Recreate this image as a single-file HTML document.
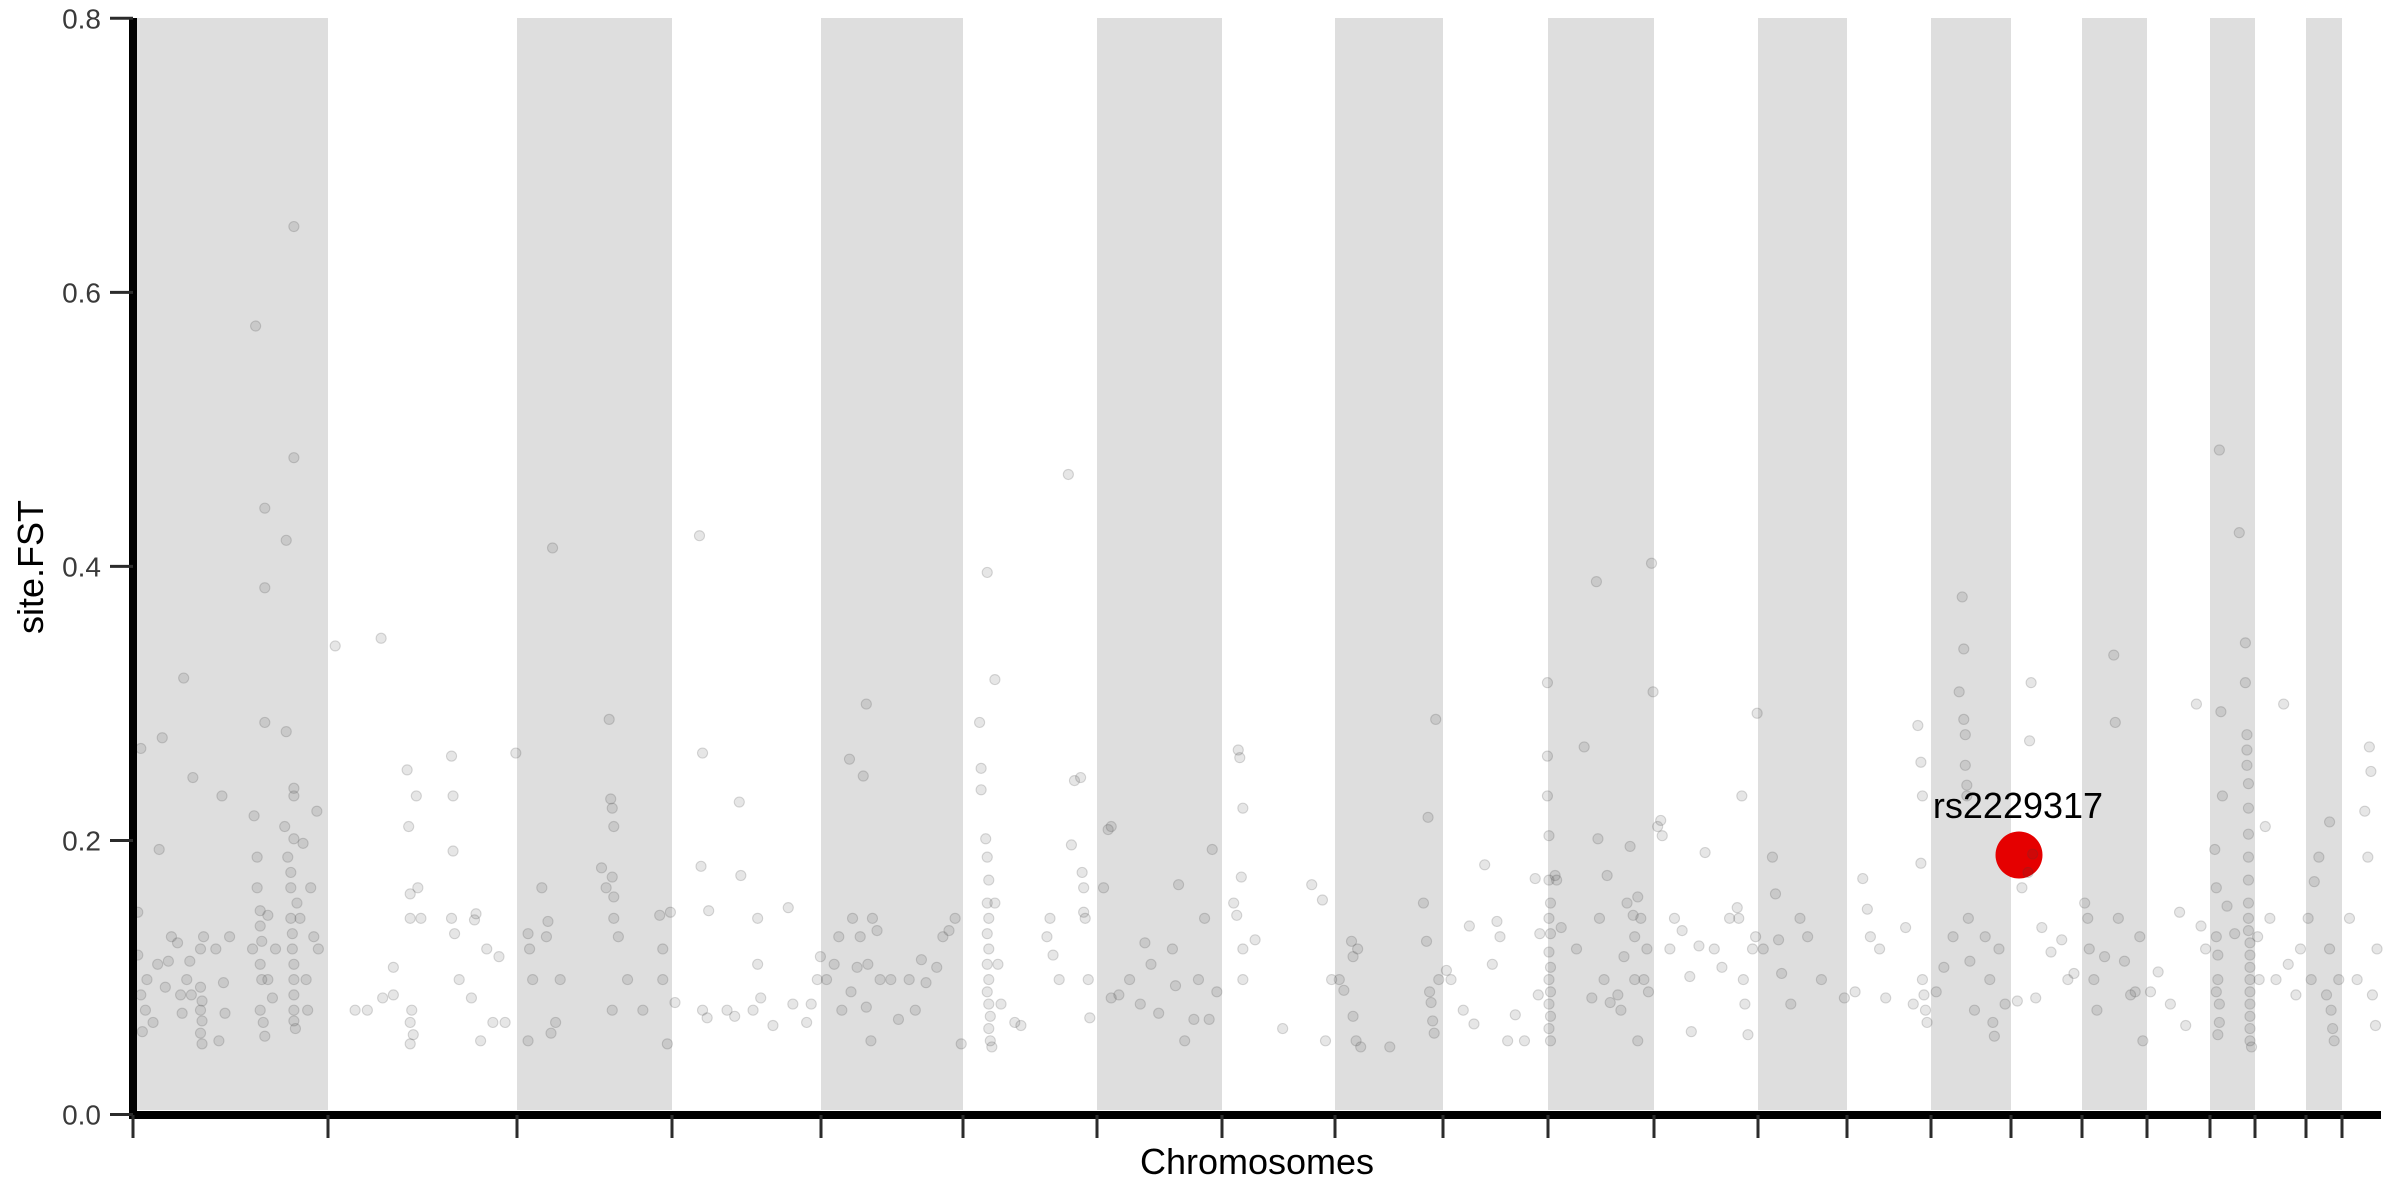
<!DOCTYPE html>
<html><head><meta charset="utf-8"><style>
html,body{margin:0;padding:0;background:#fff;}
svg{display:block;font-family:"Liberation Sans",Arial,sans-serif;}
.d circle{fill:#404040;fill-opacity:0.13;stroke:#404040;stroke-opacity:0.2;stroke-width:0.7;}
</style></head><body>
<svg width="2400" height="1200" viewBox="0 0 2400 1200" xmlns="http://www.w3.org/2000/svg">
<rect x="0" y="0" width="2400" height="1200" fill="#fff"/>
<g fill="#dedede">
<rect x="133" y="18" width="195" height="1092"/>
<rect x="517" y="18" width="155" height="1092"/>
<rect x="821" y="18" width="142" height="1092"/>
<rect x="1097" y="18" width="125" height="1092"/>
<rect x="1335" y="18" width="108" height="1092"/>
<rect x="1548" y="18" width="106" height="1092"/>
<rect x="1758" y="18" width="89" height="1092"/>
<rect x="1931" y="18" width="80" height="1092"/>
<rect x="2082" y="18" width="65" height="1092"/>
<rect x="2210" y="18" width="45" height="1092"/>
<rect x="2306" y="18" width="36" height="1092"/>
</g>
<circle cx="2019" cy="855" r="23.5" fill="#e50000"/>
<g class="d" transform="scale(1.5306)">
<!-- chr1 -->
<circle cx="90" cy="624" r="3.3"/><circle cx="92" cy="650" r="3.3"/><circle cx="95" cy="660" r="3.3"/><circle cx="93" cy="674" r="3.3"/><circle cx="92" cy="489" r="3.3"/><circle cx="96" cy="640" r="3.3"/><circle cx="90" cy="596" r="3.3"/>
<circle cx="104" cy="555" r="3.3"/><circle cx="103" cy="630" r="3.3"/><circle cx="106" cy="482" r="3.3"/><circle cx="108" cy="645" r="3.3"/><circle cx="100" cy="668" r="3.3"/><circle cx="112" cy="612" r="3.3"/><circle cx="110" cy="628" r="3.3"/>
<circle cx="116" cy="616" r="3.3"/><circle cx="120" cy="443" r="3.3"/><circle cx="119" cy="662" r="3.3"/><circle cx="122" cy="640" r="3.3"/><circle cx="118" cy="650" r="3.3"/><circle cx="126" cy="508" r="3.3"/><circle cx="125" cy="650" r="3.3"/><circle cx="124" cy="628" r="3.3"/>
<circle cx="131" cy="645" r="3.3"/><circle cx="132" cy="654" r="3.3"/><circle cx="131" cy="660" r="3.3"/><circle cx="132" cy="667" r="3.3"/><circle cx="131" cy="675" r="3.3"/><circle cx="132" cy="682" r="3.3"/><circle cx="131" cy="620" r="3.3"/><circle cx="133" cy="612" r="3.3"/>
<circle cx="141" cy="620" r="3.3"/><circle cx="145" cy="520" r="3.3"/><circle cx="143" cy="680" r="3.3"/><circle cx="146" cy="642" r="3.3"/><circle cx="147" cy="662" r="3.3"/><circle cx="150" cy="612" r="3.3"/>
<circle cx="165" cy="620" r="3.3"/><circle cx="167" cy="213" r="3.3"/><circle cx="166" cy="533" r="3.3"/><circle cx="168" cy="560" r="3.3"/><circle cx="168" cy="580" r="3.3"/><circle cx="170" cy="595" r="3.3"/><circle cx="170" cy="605" r="3.3"/><circle cx="171" cy="615" r="3.3"/><circle cx="170" cy="630" r="3.3"/><circle cx="171" cy="640" r="3.3"/><circle cx="170" cy="660" r="3.3"/><circle cx="172" cy="668" r="3.3"/><circle cx="173" cy="677" r="3.3"/><circle cx="173" cy="332" r="3.3"/><circle cx="173" cy="384" r="3.3"/><circle cx="173" cy="472" r="3.3"/><circle cx="175" cy="598" r="3.3"/><circle cx="175" cy="640" r="3.3"/><circle cx="178" cy="652" r="3.3"/><circle cx="180" cy="620" r="3.3"/>
<circle cx="187" cy="353" r="3.3"/><circle cx="187" cy="478" r="3.3"/><circle cx="186" cy="540" r="3.3"/><circle cx="188" cy="560" r="3.3"/><circle cx="190" cy="580" r="3.3"/><circle cx="190" cy="600" r="3.3"/><circle cx="191" cy="610" r="3.3"/><circle cx="191" cy="620" r="3.3"/><circle cx="192" cy="630" r="3.3"/><circle cx="192" cy="640" r="3.3"/><circle cx="192" cy="650" r="3.3"/><circle cx="192" cy="660" r="3.3"/><circle cx="192" cy="667" r="3.3"/><circle cx="193" cy="672" r="3.3"/><circle cx="192" cy="148" r="3.3"/><circle cx="192" cy="299" r="3.3"/><circle cx="192" cy="515" r="3.3"/><circle cx="192" cy="520" r="3.3"/><circle cx="192" cy="548" r="3.3"/><circle cx="190" cy="570" r="3.3"/><circle cx="194" cy="590" r="3.3"/><circle cx="196" cy="600" r="3.3"/>
<circle cx="198" cy="551" r="3.3"/><circle cx="200" cy="640" r="3.3"/><circle cx="201" cy="660" r="3.3"/><circle cx="203" cy="580" r="3.3"/><circle cx="207" cy="530" r="3.3"/><circle cx="205" cy="612" r="3.3"/><circle cx="208" cy="620" r="3.3"/>
<!-- chr2 -->
<circle cx="219" cy="422" r="3.3"/><circle cx="232" cy="660" r="3.3"/><circle cx="249" cy="417" r="3.3"/><circle cx="257" cy="632" r="3.3"/><circle cx="250" cy="652" r="3.3"/><circle cx="266" cy="503" r="3.3"/><circle cx="267" cy="540" r="3.3"/><circle cx="268" cy="584" r="3.3"/><circle cx="268" cy="600" r="3.3"/><circle cx="269" cy="660" r="3.3"/><circle cx="268" cy="668" r="3.3"/><circle cx="270" cy="676" r="3.3"/><circle cx="268" cy="682" r="3.3"/><circle cx="272" cy="520" r="3.3"/><circle cx="273" cy="580" r="3.3"/><circle cx="275" cy="600" r="3.3"/><circle cx="295" cy="494" r="3.3"/><circle cx="296" cy="520" r="3.3"/><circle cx="296" cy="556" r="3.3"/><circle cx="295" cy="600" r="3.3"/><circle cx="297" cy="610" r="3.3"/><circle cx="300" cy="640" r="3.3"/><circle cx="310" cy="601" r="3.3"/><circle cx="311" cy="597" r="3.3"/><circle cx="308" cy="652" r="3.3"/><circle cx="318" cy="620" r="3.3"/><circle cx="322" cy="668" r="3.3"/><circle cx="326" cy="625" r="3.3"/><circle cx="330" cy="668" r="3.3"/><circle cx="314" cy="680" r="3.3"/><circle cx="257" cy="650" r="3.3"/><circle cx="240" cy="660" r="3.3"/>
<!-- chr3 -->
<circle cx="337" cy="492" r="3.3"/><circle cx="345" cy="610" r="3.3"/><circle cx="346" cy="620" r="3.3"/><circle cx="345" cy="680" r="3.3"/><circle cx="348" cy="640" r="3.3"/><circle cx="354" cy="580" r="3.3"/><circle cx="358" cy="602" r="3.3"/><circle cx="360" cy="675" r="3.3"/><circle cx="357" cy="612" r="3.3"/><circle cx="361" cy="358" r="3.3"/><circle cx="363" cy="668" r="3.3"/><circle cx="366" cy="640" r="3.3"/><circle cx="393" cy="567" r="3.3"/><circle cx="396" cy="580" r="3.3"/><circle cx="398" cy="470" r="3.3"/><circle cx="399" cy="522" r="3.3"/><circle cx="400" cy="528" r="3.3"/><circle cx="401" cy="540" r="3.3"/><circle cx="400" cy="573" r="3.3"/><circle cx="401" cy="586" r="3.3"/><circle cx="401" cy="600" r="3.3"/><circle cx="400" cy="660" r="3.3"/><circle cx="404" cy="612" r="3.3"/><circle cx="410" cy="640" r="3.3"/><circle cx="420" cy="660" r="3.3"/><circle cx="431" cy="598" r="3.3"/><circle cx="433" cy="620" r="3.3"/><circle cx="436" cy="682" r="3.3"/><circle cx="438" cy="596" r="3.3"/><circle cx="433" cy="640" r="3.3"/>
<!-- chr4 -->
<circle cx="441" cy="655" r="3.3"/><circle cx="457" cy="350" r="3.3"/><circle cx="459" cy="492" r="3.3"/><circle cx="458" cy="566" r="3.3"/><circle cx="459" cy="660" r="3.3"/><circle cx="462" cy="665" r="3.3"/><circle cx="463" cy="595" r="3.3"/><circle cx="475" cy="660" r="3.3"/><circle cx="480" cy="664" r="3.3"/><circle cx="483" cy="524" r="3.3"/><circle cx="484" cy="572" r="3.3"/><circle cx="492" cy="660" r="3.3"/><circle cx="495" cy="600" r="3.3"/><circle cx="495" cy="630" r="3.3"/><circle cx="497" cy="652" r="3.3"/><circle cx="505" cy="670" r="3.3"/><circle cx="515" cy="593" r="3.3"/><circle cx="518" cy="656" r="3.3"/><circle cx="527" cy="668" r="3.3"/><circle cx="530" cy="656" r="3.3"/><circle cx="534" cy="640" r="3.3"/><circle cx="536" cy="625" r="3.3"/>
<!-- chr5 -->
<circle cx="540" cy="640" r="3.3"/><circle cx="545" cy="630" r="3.3"/><circle cx="548" cy="612" r="3.3"/><circle cx="550" cy="660" r="3.3"/><circle cx="555" cy="496" r="3.3"/><circle cx="557" cy="600" r="3.3"/><circle cx="556" cy="648" r="3.3"/><circle cx="560" cy="632" r="3.3"/><circle cx="562" cy="612" r="3.3"/><circle cx="564" cy="507" r="3.3"/><circle cx="566" cy="460" r="3.3"/><circle cx="567" cy="630" r="3.3"/><circle cx="566" cy="658" r="3.3"/><circle cx="569" cy="680" r="3.3"/><circle cx="570" cy="600" r="3.3"/><circle cx="573" cy="608" r="3.3"/><circle cx="575" cy="640" r="3.3"/><circle cx="582" cy="640" r="3.3"/><circle cx="587" cy="666" r="3.3"/><circle cx="594" cy="640" r="3.3"/><circle cx="598" cy="660" r="3.3"/><circle cx="602" cy="627" r="3.3"/><circle cx="605" cy="642" r="3.3"/><circle cx="612" cy="632" r="3.3"/><circle cx="616" cy="612" r="3.3"/><circle cx="620" cy="608" r="3.3"/><circle cx="624" cy="600" r="3.3"/><circle cx="628" cy="682" r="3.3"/>
<!-- chr6 -->
<circle cx="640" cy="472" r="3.3"/><circle cx="641" cy="502" r="3.3"/><circle cx="641" cy="516" r="3.3"/><circle cx="644" cy="548" r="3.3"/><circle cx="645" cy="560" r="3.3"/><circle cx="646" cy="575" r="3.3"/><circle cx="645" cy="590" r="3.3"/><circle cx="646" cy="600" r="3.3"/><circle cx="645" cy="610" r="3.3"/><circle cx="646" cy="620" r="3.3"/><circle cx="645" cy="630" r="3.3"/><circle cx="646" cy="640" r="3.3"/><circle cx="645" cy="648" r="3.3"/><circle cx="646" cy="656" r="3.3"/><circle cx="647" cy="664" r="3.3"/><circle cx="646" cy="672" r="3.3"/><circle cx="647" cy="680" r="3.3"/><circle cx="648" cy="684" r="3.3"/><circle cx="645" cy="374" r="3.3"/><circle cx="650" cy="444" r="3.3"/><circle cx="652" cy="630" r="3.3"/><circle cx="654" cy="656" r="3.3"/><circle cx="650" cy="590" r="3.3"/><circle cx="663" cy="668" r="3.3"/><circle cx="667" cy="670" r="3.3"/><circle cx="684" cy="612" r="3.3"/><circle cx="686" cy="600" r="3.3"/><circle cx="688" cy="624" r="3.3"/><circle cx="692" cy="640" r="3.3"/><circle cx="698" cy="310" r="3.3"/><circle cx="700" cy="552" r="3.3"/><circle cx="702" cy="510" r="3.3"/><circle cx="706" cy="508" r="3.3"/><circle cx="707" cy="570" r="3.3"/><circle cx="708" cy="580" r="3.3"/><circle cx="708" cy="596" r="3.3"/><circle cx="709" cy="600" r="3.3"/><circle cx="711" cy="640" r="3.3"/><circle cx="712" cy="665" r="3.3"/>
<!-- chr7 -->
<circle cx="721" cy="580" r="3.3"/><circle cx="724" cy="542" r="3.3"/><circle cx="726" cy="540" r="3.3"/><circle cx="726" cy="652" r="3.3"/><circle cx="731" cy="650" r="3.3"/><circle cx="738" cy="640" r="3.3"/><circle cx="745" cy="656" r="3.3"/><circle cx="748" cy="616" r="3.3"/><circle cx="752" cy="630" r="3.3"/><circle cx="757" cy="662" r="3.3"/><circle cx="766" cy="620" r="3.3"/><circle cx="768" cy="644" r="3.3"/><circle cx="770" cy="578" r="3.3"/><circle cx="774" cy="680" r="3.3"/><circle cx="780" cy="666" r="3.3"/><circle cx="783" cy="640" r="3.3"/><circle cx="787" cy="600" r="3.3"/><circle cx="790" cy="666" r="3.3"/><circle cx="792" cy="555" r="3.3"/><circle cx="795" cy="648" r="3.3"/>
<!-- chr8 -->
<circle cx="806" cy="590" r="3.3"/><circle cx="808" cy="598" r="3.3"/><circle cx="809" cy="490" r="3.3"/><circle cx="810" cy="495" r="3.3"/><circle cx="811" cy="573" r="3.3"/><circle cx="812" cy="528" r="3.3"/><circle cx="812" cy="620" r="3.3"/><circle cx="812" cy="640" r="3.3"/><circle cx="820" cy="614" r="3.3"/><circle cx="838" cy="672" r="3.3"/><circle cx="857" cy="578" r="3.3"/><circle cx="864" cy="588" r="3.3"/><circle cx="870" cy="640" r="3.3"/><circle cx="866" cy="680" r="3.3"/>
<!-- chr9 -->
<circle cx="875" cy="640" r="3.3"/><circle cx="878" cy="647" r="3.3"/><circle cx="883" cy="615" r="3.3"/><circle cx="884" cy="625" r="3.3"/><circle cx="884" cy="664" r="3.3"/><circle cx="886" cy="680" r="3.3"/><circle cx="887" cy="620" r="3.3"/><circle cx="889" cy="684" r="3.3"/><circle cx="908" cy="684" r="3.3"/><circle cx="930" cy="590" r="3.3"/><circle cx="932" cy="615" r="3.3"/><circle cx="934" cy="648" r="3.3"/><circle cx="935" cy="655" r="3.3"/><circle cx="936" cy="667" r="3.3"/><circle cx="937" cy="675" r="3.3"/><circle cx="938" cy="470" r="3.3"/><circle cx="940" cy="640" r="3.3"/><circle cx="933" cy="534" r="3.3"/>
<!-- chr10 -->
<circle cx="945" cy="634" r="3.3"/><circle cx="948" cy="640" r="3.3"/><circle cx="956" cy="660" r="3.3"/><circle cx="960" cy="605" r="3.3"/><circle cx="963" cy="669" r="3.3"/><circle cx="970" cy="565" r="3.3"/><circle cx="975" cy="630" r="3.3"/><circle cx="978" cy="602" r="3.3"/><circle cx="980" cy="612" r="3.3"/><circle cx="985" cy="680" r="3.3"/><circle cx="990" cy="663" r="3.3"/><circle cx="996" cy="680" r="3.3"/><circle cx="1003" cy="574" r="3.3"/><circle cx="1005" cy="650" r="3.3"/><circle cx="1006" cy="610" r="3.3"/>
<!-- chr11 -->
<circle cx="1011" cy="446" r="3.3"/><circle cx="1011" cy="494" r="3.3"/><circle cx="1011" cy="520" r="3.3"/><circle cx="1012" cy="546" r="3.3"/><circle cx="1012" cy="575" r="3.3"/><circle cx="1013" cy="590" r="3.3"/><circle cx="1012" cy="600" r="3.3"/><circle cx="1013" cy="610" r="3.3"/><circle cx="1012" cy="622" r="3.3"/><circle cx="1013" cy="632" r="3.3"/><circle cx="1012" cy="640" r="3.3"/><circle cx="1013" cy="648" r="3.3"/><circle cx="1012" cy="656" r="3.3"/><circle cx="1013" cy="664" r="3.3"/><circle cx="1012" cy="672" r="3.3"/><circle cx="1013" cy="680" r="3.3"/><circle cx="1016" cy="572" r="3.3"/><circle cx="1017" cy="575" r="3.3"/><circle cx="1020" cy="606" r="3.3"/><circle cx="1030" cy="620" r="3.3"/><circle cx="1035" cy="488" r="3.3"/><circle cx="1040" cy="652" r="3.3"/><circle cx="1043" cy="380" r="3.3"/><circle cx="1044" cy="548" r="3.3"/><circle cx="1045" cy="600" r="3.3"/><circle cx="1048" cy="640" r="3.3"/><circle cx="1050" cy="572" r="3.3"/><circle cx="1052" cy="655" r="3.3"/><circle cx="1057" cy="650" r="3.3"/><circle cx="1059" cy="660" r="3.3"/><circle cx="1061" cy="625" r="3.3"/><circle cx="1063" cy="590" r="3.3"/><circle cx="1065" cy="553" r="3.3"/><circle cx="1067" cy="598" r="3.3"/><circle cx="1068" cy="612" r="3.3"/><circle cx="1068" cy="640" r="3.3"/><circle cx="1070" cy="586" r="3.3"/><circle cx="1070" cy="680" r="3.3"/><circle cx="1072" cy="600" r="3.3"/><circle cx="1074" cy="640" r="3.3"/><circle cx="1076" cy="620" r="3.3"/><circle cx="1077" cy="648" r="3.3"/><circle cx="1079" cy="368" r="3.3"/><circle cx="1080" cy="452" r="3.3"/>
<!-- chr12 -->
<circle cx="1083" cy="540" r="3.3"/><circle cx="1085" cy="536" r="3.3"/><circle cx="1086" cy="546" r="3.3"/><circle cx="1091" cy="620" r="3.3"/><circle cx="1094" cy="600" r="3.3"/><circle cx="1099" cy="608" r="3.3"/><circle cx="1104" cy="638" r="3.3"/><circle cx="1105" cy="674" r="3.3"/><circle cx="1110" cy="618" r="3.3"/><circle cx="1114" cy="557" r="3.3"/><circle cx="1120" cy="620" r="3.3"/><circle cx="1125" cy="632" r="3.3"/><circle cx="1130" cy="600" r="3.3"/><circle cx="1135" cy="593" r="3.3"/><circle cx="1136" cy="600" r="3.3"/><circle cx="1138" cy="520" r="3.3"/><circle cx="1139" cy="640" r="3.3"/><circle cx="1140" cy="656" r="3.3"/><circle cx="1142" cy="676" r="3.3"/><circle cx="1145" cy="620" r="3.3"/><circle cx="1148" cy="466" r="3.3"/><circle cx="1147" cy="612" r="3.3"/>
<!-- chr13 -->
<circle cx="1152" cy="620" r="3.3"/><circle cx="1158" cy="560" r="3.3"/><circle cx="1160" cy="584" r="3.3"/><circle cx="1162" cy="614" r="3.3"/><circle cx="1164" cy="636" r="3.3"/><circle cx="1170" cy="656" r="3.3"/><circle cx="1176" cy="600" r="3.3"/><circle cx="1181" cy="612" r="3.3"/><circle cx="1190" cy="640" r="3.3"/><circle cx="1205" cy="652" r="3.3"/>
<!-- chr14 -->
<circle cx="1212" cy="648" r="3.3"/><circle cx="1217" cy="574" r="3.3"/><circle cx="1220" cy="594" r="3.3"/><circle cx="1222" cy="612" r="3.3"/><circle cx="1228" cy="620" r="3.3"/><circle cx="1232" cy="652" r="3.3"/><circle cx="1245" cy="606" r="3.3"/><circle cx="1250" cy="656" r="3.3"/><circle cx="1253" cy="474" r="3.3"/><circle cx="1255" cy="498" r="3.3"/><circle cx="1256" cy="520" r="3.3"/><circle cx="1255" cy="564" r="3.3"/><circle cx="1256" cy="640" r="3.3"/><circle cx="1257" cy="650" r="3.3"/><circle cx="1258" cy="660" r="3.3"/><circle cx="1259" cy="668" r="3.3"/>
<!-- chr15 -->
<circle cx="1265" cy="648" r="3.3"/><circle cx="1270" cy="632" r="3.3"/><circle cx="1276" cy="612" r="3.3"/><circle cx="1280" cy="452" r="3.3"/><circle cx="1282" cy="390" r="3.3"/><circle cx="1283" cy="424" r="3.3"/><circle cx="1283" cy="470" r="3.3"/><circle cx="1284" cy="480" r="3.3"/><circle cx="1284" cy="500" r="3.3"/><circle cx="1285" cy="513" r="3.3"/><circle cx="1285" cy="520" r="3.3"/><circle cx="1286" cy="600" r="3.3"/><circle cx="1287" cy="628" r="3.3"/><circle cx="1290" cy="660" r="3.3"/><circle cx="1297" cy="612" r="3.3"/><circle cx="1300" cy="640" r="3.3"/><circle cx="1302" cy="668" r="3.3"/><circle cx="1303" cy="677" r="3.3"/><circle cx="1306" cy="620" r="3.3"/><circle cx="1310" cy="656" r="3.3"/>
<!-- chr16 -->
<circle cx="1318" cy="654" r="3.3"/><circle cx="1321" cy="580" r="3.3"/><circle cx="1325" cy="570" r="3.3"/><circle cx="1327" cy="446" r="3.3"/><circle cx="1326" cy="484" r="3.3"/><circle cx="1328" cy="558" r="3.3"/><circle cx="1330" cy="652" r="3.3"/><circle cx="1334" cy="606" r="3.3"/><circle cx="1340" cy="622" r="3.3"/><circle cx="1347" cy="614" r="3.3"/><circle cx="1351" cy="640" r="3.3"/><circle cx="1355" cy="636" r="3.3"/>
<!-- chr17 -->
<circle cx="1362" cy="590" r="3.3"/><circle cx="1364" cy="600" r="3.3"/><circle cx="1365" cy="620" r="3.3"/><circle cx="1368" cy="640" r="3.3"/><circle cx="1370" cy="660" r="3.3"/><circle cx="1375" cy="625" r="3.3"/><circle cx="1381" cy="428" r="3.3"/><circle cx="1382" cy="472" r="3.3"/><circle cx="1384" cy="600" r="3.3"/><circle cx="1388" cy="628" r="3.3"/><circle cx="1392" cy="650" r="3.3"/><circle cx="1395" cy="648" r="3.3"/><circle cx="1398" cy="612" r="3.3"/><circle cx="1400" cy="680" r="3.3"/>
<!-- chr18 -->
<circle cx="1405" cy="648" r="3.3"/><circle cx="1410" cy="635" r="3.3"/><circle cx="1418" cy="656" r="3.3"/><circle cx="1424" cy="596" r="3.3"/><circle cx="1428" cy="670" r="3.3"/><circle cx="1435" cy="460" r="3.3"/><circle cx="1438" cy="605" r="3.3"/><circle cx="1441" cy="620" r="3.3"/>
<!-- chr19 -->
<circle cx="1447" cy="555" r="3.3"/><circle cx="1448" cy="580" r="3.3"/><circle cx="1448" cy="612" r="3.3"/><circle cx="1449" cy="624" r="3.3"/><circle cx="1449" cy="640" r="3.3"/><circle cx="1448" cy="648" r="3.3"/><circle cx="1450" cy="656" r="3.3"/><circle cx="1450" cy="668" r="3.3"/><circle cx="1449" cy="676" r="3.3"/><circle cx="1450" cy="294" r="3.3"/><circle cx="1451" cy="465" r="3.3"/><circle cx="1452" cy="520" r="3.3"/><circle cx="1455" cy="592" r="3.3"/><circle cx="1460" cy="610" r="3.3"/><circle cx="1463" cy="348" r="3.3"/><circle cx="1467" cy="420" r="3.3"/><circle cx="1467" cy="446" r="3.3"/><circle cx="1468" cy="480" r="3.3"/><circle cx="1468" cy="490" r="3.3"/><circle cx="1468" cy="500" r="3.3"/><circle cx="1469" cy="512" r="3.3"/><circle cx="1469" cy="528" r="3.3"/><circle cx="1469" cy="545" r="3.3"/><circle cx="1469" cy="560" r="3.3"/><circle cx="1469" cy="575" r="3.3"/><circle cx="1469" cy="590" r="3.3"/><circle cx="1469" cy="600" r="3.3"/><circle cx="1469" cy="608" r="3.3"/><circle cx="1470" cy="616" r="3.3"/><circle cx="1470" cy="624" r="3.3"/><circle cx="1470" cy="632" r="3.3"/><circle cx="1470" cy="640" r="3.3"/><circle cx="1470" cy="648" r="3.3"/><circle cx="1470" cy="656" r="3.3"/><circle cx="1470" cy="664" r="3.3"/><circle cx="1470" cy="672" r="3.3"/><circle cx="1470" cy="680" r="3.3"/><circle cx="1471" cy="684" r="3.3"/><circle cx="1475" cy="612" r="3.3"/><circle cx="1476" cy="640" r="3.3"/>
<!-- chr20 -->
<circle cx="1480" cy="540" r="3.3"/><circle cx="1483" cy="600" r="3.3"/><circle cx="1487" cy="640" r="3.3"/><circle cx="1492" cy="460" r="3.3"/><circle cx="1495" cy="630" r="3.3"/><circle cx="1500" cy="650" r="3.3"/><circle cx="1503" cy="620" r="3.3"/>
<!-- chr21 -->
<circle cx="1508" cy="600" r="3.3"/><circle cx="1510" cy="640" r="3.3"/><circle cx="1512" cy="576" r="3.3"/><circle cx="1515" cy="560" r="3.3"/><circle cx="1520" cy="650" r="3.3"/><circle cx="1522" cy="537" r="3.3"/><circle cx="1522" cy="620" r="3.3"/><circle cx="1523" cy="660" r="3.3"/><circle cx="1524" cy="672" r="3.3"/><circle cx="1525" cy="680" r="3.3"/><circle cx="1528" cy="640" r="3.3"/>
<!-- chr22 -->
<circle cx="1535" cy="600" r="3.3"/><circle cx="1540" cy="640" r="3.3"/><circle cx="1545" cy="530" r="3.3"/><circle cx="1547" cy="560" r="3.3"/><circle cx="1548" cy="488" r="3.3"/><circle cx="1549" cy="504" r="3.3"/><circle cx="1550" cy="650" r="3.3"/><circle cx="1552" cy="670" r="3.3"/><circle cx="1553" cy="620" r="3.3"/>
</g>
<!-- axes -->
<line x1="133" y1="18" x2="133" y2="1119" stroke="#000" stroke-width="8"/>
<line x1="129" y1="1115" x2="2381" y2="1115" stroke="#000" stroke-width="8"/>
<g stroke="#2b2b2b" stroke-width="3">
<line x1="110" y1="18.3" x2="133" y2="18.3"/>
<line x1="110" y1="292.4" x2="133" y2="292.4"/>
<line x1="110" y1="566.4" x2="133" y2="566.4"/>
<line x1="110" y1="840.5" x2="133" y2="840.5"/>
<line x1="110" y1="1114.5" x2="133" y2="1114.5"/>
</g>
<g stroke="#2b2b2b" stroke-width="3">
<line x1="133" y1="1115" x2="133" y2="1138"/>
<line x1="328" y1="1115" x2="328" y2="1138"/>
<line x1="517" y1="1115" x2="517" y2="1138"/>
<line x1="672" y1="1115" x2="672" y2="1138"/>
<line x1="821" y1="1115" x2="821" y2="1138"/>
<line x1="963" y1="1115" x2="963" y2="1138"/>
<line x1="1097" y1="1115" x2="1097" y2="1138"/>
<line x1="1222" y1="1115" x2="1222" y2="1138"/>
<line x1="1335" y1="1115" x2="1335" y2="1138"/>
<line x1="1443" y1="1115" x2="1443" y2="1138"/>
<line x1="1548" y1="1115" x2="1548" y2="1138"/>
<line x1="1654" y1="1115" x2="1654" y2="1138"/>
<line x1="1758" y1="1115" x2="1758" y2="1138"/>
<line x1="1847" y1="1115" x2="1847" y2="1138"/>
<line x1="1931" y1="1115" x2="1931" y2="1138"/>
<line x1="2011" y1="1115" x2="2011" y2="1138"/>
<line x1="2082" y1="1115" x2="2082" y2="1138"/>
<line x1="2147" y1="1115" x2="2147" y2="1138"/>
<line x1="2210" y1="1115" x2="2210" y2="1138"/>
<line x1="2255" y1="1115" x2="2255" y2="1138"/>
<line x1="2306" y1="1115" x2="2306" y2="1138"/>
<line x1="2342" y1="1115" x2="2342" y2="1138"/>
</g>
<g font-size="28" fill="#3a3a3a" text-anchor="end">
<text x="101" y="28.5">0.8</text>
<text x="101" y="302.5">0.6</text>
<text x="101" y="576.5">0.4</text>
<text x="101" y="850.5">0.2</text>
<text x="101" y="1124.5">0.0</text>
</g>
<text x="1257" y="1174" font-size="36" fill="#000" text-anchor="middle">Chromosomes</text>
<text transform="translate(43,567) rotate(-90)" font-size="36" fill="#000" text-anchor="middle">site.FST</text>
<text x="2018" y="818" font-size="36" fill="#000" text-anchor="middle">rs2229317</text>
</svg>
</body></html>
